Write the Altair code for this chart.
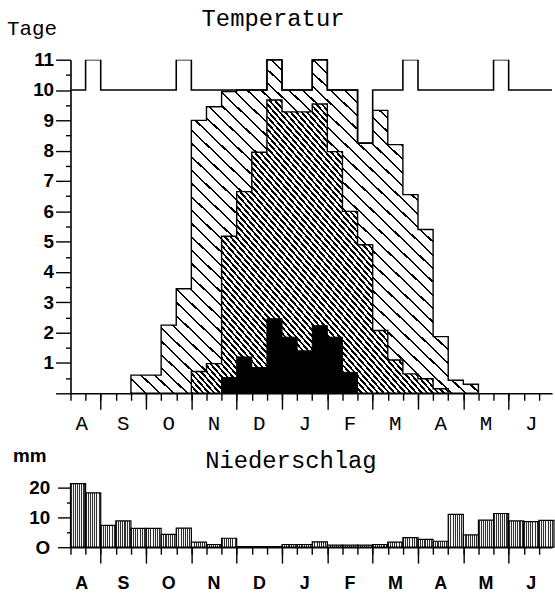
import altair as alt
import pandas as pd

# ---------------- data (10-day periods, 11 Aug .. 30 Jun) ----------------
dekads = ["Aug 2", "Aug 3", "Sep 1", "Sep 2", "Sep 3", "Okt 1", "Okt 2", "Okt 3",
          "Nov 1", "Nov 2", "Nov 3", "Dez 1", "Dez 2", "Dez 3", "Jan 1", "Jan 2",
          "Jan 3", "Feb 1", "Feb 2", "Feb 3", "Mär 1", "Mär 2", "Mär 3", "Apr 1",
          "Apr 2", "Apr 3", "Mai 1", "Mai 2", "Mai 3", "Jun 1", "Jun 2", "Jun 3"]
days = [10, 11, 10, 10, 10, 10, 10, 11, 10, 10, 10, 10, 10, 11, 10, 10,
        11, 10, 10, 8.25, 10, 10, 11, 10, 10, 10, 10, 10, 11, 10, 10, 10]
frost_light = [0, 0, 0, 0, 0.6, 0.6, 2.25, 3.45, 9.0, 9.45, 9.95, 10, 10, 11, 10, 10,
               11, 10, 10, 8.25, 9.33, 8.2, 6.55, 5.4, 1.87, 0.43, 0.3, 0, 0, 0, 0, 0]
frost_medium = [0, 0, 0, 0, 0, 0, 0, 0, 0.72, 0.98, 5.18, 6.65, 7.95, 9.67, 9.28, 9.28,
                9.54, 7.97, 6.0, 4.9, 2.07, 1.1, 0.64, 0.48, 0.15, 0, 0, 0, 0, 0, 0, 0]
frost_black = [0, 0, 0, 0, 0, 0, 0, 0, 0, 0, 0.52, 1.2, 0.85, 2.46, 1.85, 1.4,
               2.23, 1.85, 0.69, 0, 0, 0, 0, 0, 0, 0, 0, 0, 0, 0, 0, 0]
precip = [21.3, 18.2, 7.3, 8.8, 6.3, 6.3, 4.3, 6.4, 1.7, 0.9, 3.0, 0.2, 0.2, 0.2, 0.9, 0.9,
          1.8, 0.7, 0.7, 0.7, 0.9, 1.7, 3.2, 2.6, 2.0, 11.0, 4.1, 9.1, 11.3, 8.8, 8.6, 9.0]

month_labels = ["A", "S", "O", "N", "D", "J", "F", "M", "A", "M", "J"]
month_label_pos = [0.75, 3.5, 6.5, 9.5, 12.5, 15.5, 18.5, 21.5, 24.5, 27.5, 30.5]
month_ends = [2, 5, 8, 11, 14, 17, 20, 23, 26, 29]
dekad_ticks = list(range(0, 32))

X_MAX = 31.87
W = 485
H_TOP = 336
H_BOT = 64
MONO = "Liberation Mono"
SANS = "Liberation Sans"


def step_frame(values):
    idx = [i for i, v in enumerate(values) if v > 0]
    lo, hi = idx[0], idx[-1]
    xs = list(range(lo, hi + 2))
    ys = [values[i] for i in range(lo, hi + 1)] + [values[hi]]
    return pd.DataFrame({"x": xs, "y": ys})


def stripes(n, frac, line="black", bg="white", x1=0, y1=1, x2=1, y2=0):
    stops = []
    for k in range(n):
        a = round(k / n, 6)
        b = round((k + frac) / n, 6)
        c = round((k + 1) / n, 6)
        stops += [{"offset": a, "color": line}, {"offset": b, "color": line},
                  {"offset": b, "color": bg}, {"offset": c, "color": bg}]
    return {"gradient": "linear", "stops": stops, "x1": x1, "y1": y1, "x2": x2, "y2": y2}


def xq(field, axis=None):
    return alt.X(f"{field}:Q", scale=alt.Scale(domain=[0, X_MAX], nice=False, zero=False),
                 axis=axis, title=None)


ax_short = alt.Axis(orient="bottom", values=dekad_ticks, tickSize=7, labels=False,
                    domain=True, grid=False, title=None, tickWidth=1.4, domainWidth=1.6)
ax_long = alt.Axis(orient="bottom", values=month_ends, tickSize=16, labels=False,
                   domain=False, grid=False, title=None, tickWidth=1.4)


def txt(label, x, y, font, size, align="left", weight="normal"):
    return alt.Chart(pd.DataFrame({"t": [label]})).mark_text(
        align=align, baseline="alphabetic", font=font, fontSize=size, color="black",
        fontWeight=weight
    ).encode(text="t:N", x=alt.value(x), y=alt.value(y))


# ---------------- top panel: Temperatur ----------------
ytop = alt.Scale(domain=[0, 11], nice=False, zero=True)

frame = alt.Chart(pd.DataFrame({"a": [0]})).mark_rule(color="white", strokeWidth=1).encode(
    x=alt.value(-70), x2=alt.value(W), y=alt.value(-57))

light = alt.Chart(step_frame(frost_light)).mark_area(
    interpolate="step-after", fill=stripes(50, 0.16), stroke="black", strokeWidth=1.4
).encode(
    x=xq("x", ax_short),
    y=alt.Y("y:Q", scale=ytop, title=None,
            axis=alt.Axis(orient="left", values=[i + 0.5 for i in range(11)], tickSize=5,
                          labels=False, domain=False, grid=False, tickWidth=1.4)))

medium = alt.Chart(step_frame(frost_medium)).mark_area(
    interpolate="step-after", fill=stripes(94, 0.45), stroke="black", strokeWidth=1.4
).encode(
    x=xq("x", ax_long),
    y=alt.Y("y:Q", scale=ytop, title=None,
            axis=alt.Axis(orient="left", values=list(range(12)), tickSize=15,
                          labelExpr="datum.value == 0 ? '' : datum.label",
                          labelFont=SANS, labelFontSize=19, labelFontWeight="bold",
                          labelPadding=2, labelColor="black", domain=True,
                          domainWidth=1.6, grid=False, tickWidth=1.4)))

black = alt.Chart(step_frame(frost_black)).mark_area(
    interpolate="step-after", fill="black", stroke="black", strokeWidth=1
).encode(x=xq("x"), y=alt.Y("y:Q", scale=ytop, axis=None))

topline = alt.Chart(step_frame(days)).mark_line(
    interpolate="step-after", color="black", strokeWidth=1.6, clip=True
).encode(x=xq("x"), y=alt.Y("y:Q", scale=ytop, axis=None))

mlabels_top = alt.Chart(pd.DataFrame({"pos": month_label_pos, "m": month_labels})).mark_text(
    font=MONO, fontSize=21, baseline="alphabetic", color="black"
).encode(x=xq("pos"), y=alt.value(H_TOP + 37), text="m:N")

top = alt.layer(
    frame, light, medium, black, topline, mlabels_top,
    txt("Tage", -64, -25, MONO, 21),
    txt("Temperatur", 204, -34, MONO, 24, align="center"),
).resolve_axis(x="independent", y="independent").properties(width=W, height=H_TOP)

# ---------------- bottom panel: Niederschlag ----------------
ybot = alt.Scale(domain=[0, 21.3], nice=False, zero=True)
df_p = pd.DataFrame({"x0": list(range(len(precip))), "x1": [i + 1 for i in range(len(precip))],
                     "p": precip, "dekade": dekads})

bars = alt.Chart(df_p).mark_rect(
    fill=stripes(7, 0.5, line="#303030", bg="#f4f4f4", x1=0, y1=0, x2=1, y2=0),
    stroke="black", strokeWidth=1.2
).encode(
    x=xq("x0", ax_short), x2="x1:Q",
    y=alt.Y("p:Q", scale=ybot, title=None,
            axis=alt.Axis(orient="left", values=[0, 10, 20], tickSize=13,
                          labelExpr="datum.value == 0 ? 'O' : datum.label",
                          labelFont=SANS, labelFontSize=19, labelFontWeight="bold",
                          labelPadding=8, labelColor="black", domain=True,
                          domainWidth=1.6, grid=False, tickWidth=1.4)),
    y2=alt.datum(0))

bars_axes = alt.Chart(df_p).mark_rect(opacity=0).encode(
    x=xq("x0", ax_long), x2="x1:Q",
    y=alt.Y("p:Q", scale=ybot, title=None,
            axis=alt.Axis(orient="left", values=[5, 15], tickSize=4, labels=False,
                          domain=False, grid=False, tickWidth=1.4)),
    y2=alt.datum(0))

mlabels_bot = alt.Chart(pd.DataFrame({"pos": month_label_pos, "m": month_labels})).mark_text(
    font=SANS, fontSize=18, fontWeight="bold", baseline="alphabetic", color="black"
).encode(x=xq("pos"), y=alt.value(H_BOT + 42), text="m:N")

bottom = alt.layer(
    bars_axes, bars, mlabels_bot,
    txt("mm", -58, -22, SANS, 19, weight="bold"),
    txt("Niederschlag", 222, -16, MONO, 24, align="center"),
).resolve_axis(x="independent", y="independent").properties(width=W, height=H_BOT)

chart = alt.vconcat(top, bottom, spacing=91, bounds="flush").properties(
    padding=0
).configure_view(stroke=None).configure_axis(domainColor="black", tickColor="black")

chart.save("out.html", embed_options={"renderer": "svg", "actions": False})
